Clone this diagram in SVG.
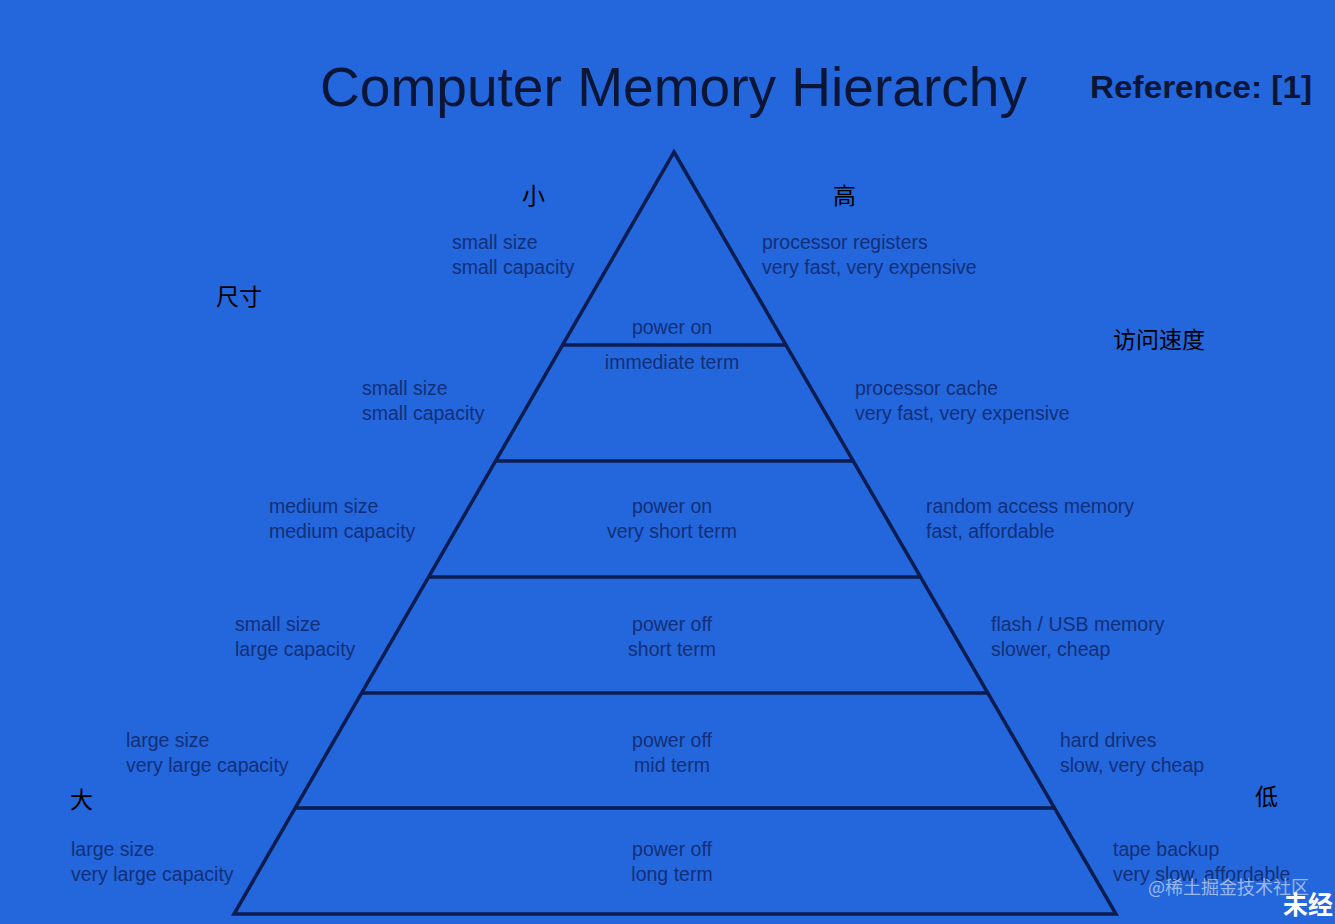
<svg xmlns="http://www.w3.org/2000/svg" width="1335" height="924" viewBox="0 0 1335 924">
<style>
.bg{fill:#2466DB}
.ln{stroke:#0A1C50;stroke-width:3.5;fill:none;stroke-linejoin:miter}
.t{font-family:"Liberation Sans",Arial,sans-serif;font-size:19.5px;fill:#12307A}
.c{text-anchor:middle}
.zh{font-family:"Noto Sans CJK SC",sans-serif;font-size:23px;fill:#000}
.title{font-family:"Liberation Sans",Arial,sans-serif;font-size:56px;fill:#0B1636}
.ref{font-family:"Liberation Sans",Arial,sans-serif;font-size:32px;font-weight:bold;fill:#0B1636}
.wm{font-family:"Noto Sans CJK SC",sans-serif;font-size:18px;fill:#FFFFFF;fill-opacity:0.55}
.wm2{font-family:"Noto Sans CJK SC",sans-serif;font-size:25px;font-weight:bold;fill:#FFFFFF}
</style>
<rect class="bg" x="0" y="0" width="1335" height="924"/>
<g id="title">
<text class="title" x="320" y="106" textLength="707" lengthAdjust="spacingAndGlyphs">Computer Memory Hierarchy</text>
<text class="ref" x="1090" y="98" textLength="222" lengthAdjust="spacingAndGlyphs">Reference: [1]</text>
</g>
<g id="connectors">
<polygon class="ln" points="674,152 1116,914 234,914"/>
<line class="ln" x1="563" y1="345" x2="786" y2="345"/>
<line class="ln" x1="496" y1="461" x2="853" y2="461"/>
<line class="ln" x1="429" y1="577" x2="920" y2="577"/>
<line class="ln" x1="362" y1="693" x2="987" y2="693"/>
<line class="ln" x1="295" y1="808" x2="1054" y2="808"/>
</g>
<g id="level1">
<text class="t c" x="672" y="334">power on</text>
<text class="t" x="452" y="249">small size</text>
<text class="t" x="452" y="274">small capacity</text>
<text class="t" x="762" y="249">processor registers</text>
<text class="t" x="762" y="274">very fast, very expensive</text>
</g>
<g id="level2">
<text class="t c" x="672" y="369">immediate term</text>
<text class="t" x="362" y="395">small size</text>
<text class="t" x="362" y="420">small capacity</text>
<text class="t" x="855" y="395">processor cache</text>
<text class="t" x="855" y="420">very fast, very expensive</text>
</g>
<g id="level3">
<text class="t c" x="672" y="513">power on</text>
<text class="t c" x="672" y="538">very short term</text>
<text class="t" x="269" y="513">medium size</text>
<text class="t" x="269" y="538">medium capacity</text>
<text class="t" x="926" y="513">random access memory</text>
<text class="t" x="926" y="538">fast, affordable</text>
</g>
<g id="level4">
<text class="t c" x="672" y="631">power off</text>
<text class="t c" x="672" y="656">short term</text>
<text class="t" x="235" y="631">small size</text>
<text class="t" x="235" y="656">large capacity</text>
<text class="t" x="991" y="631">flash / USB memory</text>
<text class="t" x="991" y="656">slower, cheap</text>
</g>
<g id="level5">
<text class="t c" x="672" y="747">power off</text>
<text class="t c" x="672" y="772">mid term</text>
<text class="t" x="126" y="747">large size</text>
<text class="t" x="126" y="772">very large capacity</text>
<text class="t" x="1060" y="747">hard drives</text>
<text class="t" x="1060" y="772">slow, very cheap</text>
</g>
<g id="level6">
<text class="t c" x="672" y="856">power off</text>
<text class="t c" x="672" y="881">long term</text>
<text class="t" x="71" y="856">large size</text>
<text class="t" x="71" y="881">very large capacity</text>
<text class="t" x="1113" y="856">tape backup</text>
<text class="t" x="1113" y="881">very slow, affordable</text>
</g>
<g id="axis-labels">
<text class="zh" x="522" y="204">小</text>
<text class="zh" x="833" y="204">高</text>
<text class="zh" x="216" y="305">尺寸</text>
<text class="zh" x="1113" y="348">访问速度</text>
<text class="zh" x="70" y="808">大</text>
<text class="zh" x="1255" y="805">低</text>
</g>
<g id="watermark">
<text class="wm" x="1148" y="894">@稀土掘金技术社区</text>
<text class="wm2" x="1283" y="914">未经</text>
</g>
</svg>
